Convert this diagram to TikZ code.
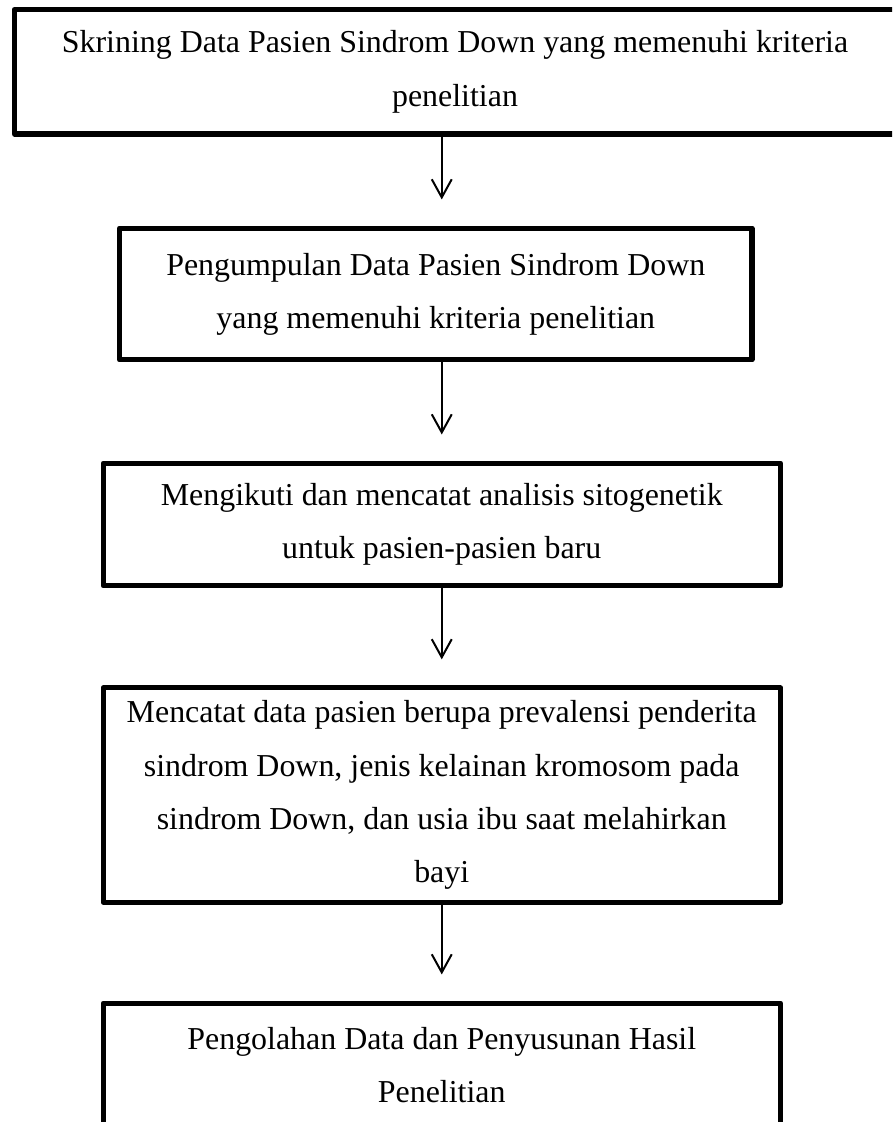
\documentclass[tikz,border=0pt]{standalone}
\usepackage{fontspec}
\setmainfont{Liberation Serif}
\usetikzlibrary{arrows.meta}
\begin{document}
\begin{tikzpicture}[x=.376pt, y=-.376pt, >={Straight Barb[length=6.8pt,width=7.5pt]}, font=\fontsize{12}{20}\selectfont, line join=round, line cap=round,
    kotak/.style={draw, line width=1.9pt, align=center, inner sep=0pt},
    panah/.style={->, line width=.75pt, shorten >=9.8pt}]
    \def\W{892} \def\H{1122} % ukuran gambar (px)
    \useasboundingbox (0,0) rectangle (\W,\H);
    \clip (0,0) rectangle (\W,\H);
    \node[kotak, minimum width=331.3pt, minimum height=46.8pt] (skrining) at (455,71.75) {Skrining Data Pasien Sindrom Down yang memenuhi kriteria\\penelitian};
    \node[kotak, minimum width=237.8pt, minimum height=49.6pt] (kumpul) at (435.75,294) {Pengumpulan Data Pasien Sindrom Down\\yang memenuhi kriteria penelitian};
    \node[kotak, minimum width=254.7pt, minimum height=46.2pt] (ikuti) at (441.75,524.5) {Mengikuti dan mencatat analisis sitogenetik\\untuk pasien-pasien baru};
    \node[kotak, minimum width=254.7pt, minimum height=80.5pt] (catat) at (441.75,795) {Mencatat data pasien berupa prevalensi penderita\\sindrom Down, jenis kelainan kromosom pada\\sindrom Down, dan usia ibu saat melahirkan\\bayi};
    \node[kotak, minimum width=254.7pt, minimum height=46.6pt] (olah) at (441.75,1065) {Pengolahan Data dan Penyusunan Hasil\\Penelitian};
    % panah di tengah kotak bawah
    \draw[panah] (skrining.south -| ikuti.north) -- (kumpul.north -| ikuti.north);
    \draw[panah] (kumpul.south -| ikuti.north) -- (ikuti.north);
    \draw[panah] (ikuti.south) -- (catat.north);
    \draw[panah] (catat.south) -- (olah.north);
\end{tikzpicture}
\end{document}
